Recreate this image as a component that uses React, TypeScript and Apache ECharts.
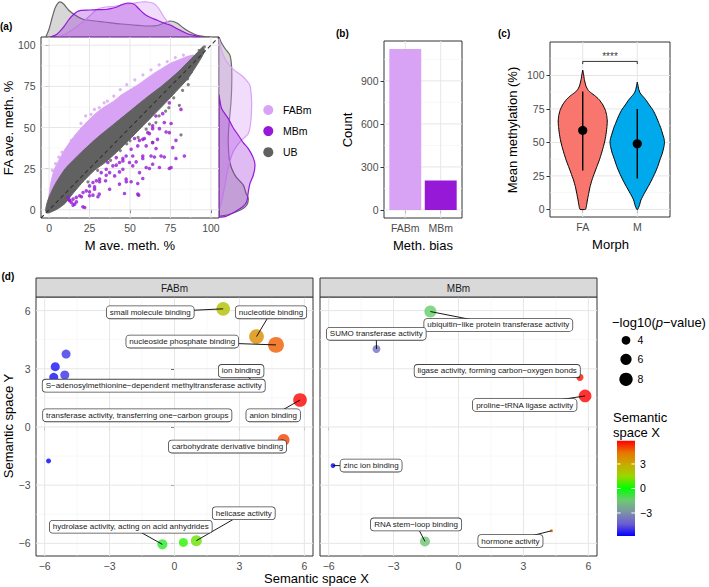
import React, { useEffect, useRef } from "react";
import * as echarts from "echarts";

const FONT = "'Liberation Sans', Arial, Helvetica, sans-serif";

// ---------------- Panel (a): FA vs M average methylation ----------------
const methGroups = ["FABm", "MBm", "UB"];
const tickA = [0, 25, 50, 75, 100];
const minorA = [12.5, 37.5, 62.5, 87.5];
// outline of the dense FABm cloud [M ave, FA ave]
const fabmCloud = [
  [-1, 2], [0, 9], [1, 16], [3, 24], [6, 30], [10, 37], [15, 44], [20, 50], [25, 55], [30, 59.5],
  [35, 63], [40, 66], [45, 70], [50, 73], [55, 76], [60, 79.5], [65, 83], [70, 86], [75, 89], [80, 91],
  [85, 93], [89, 94], [91, 93], [88, 90], [80, 83], [70, 74], [60, 66], [50, 57], [40, 48], [30, 39],
  [20, 29], [10, 18], [4, 10], [0, 3], [-1, 1],
];
// outline of the dense UB cloud [M ave, FA ave]
const ubCloud = [
  [-2, -1], [-2, 1], [-1, 5], [1, 10], [4, 16], [10, 25], [20, 35], [30, 44], [40, 52], [50, 60],
  [60, 68], [70, 75.5], [80, 84], [88, 92], [93, 97], [95, 99], [96, 97], [95, 94], [92, 89], [86, 80],
  [80.5, 74], [70, 63], [57, 50], [45, 38], [35, 29], [28, 24], [20, 16], [14, 9], [10, 4], [6, 1],
  [2, -1], [-1, -2],
];
const fabmPoints = [
  [2, 24], [4, 28], [6, 32], [8, 35], [10, 36], [13.3, 40], [13.8, 42.2], [16.6, 45], [19.7, 52.5],
  [22.6, 57], [26, 58], [28, 61], [31, 62], [34, 65], [36, 66], [40, 69], [44, 73], [48, 76], [53, 79],
  [58, 82], [63, 85], [68, 88], [73, 90], [78, 92.5], [83, 94],
];
const ubPoints = [
  [81.5, 45.5], [64, 41], [80.5, 63.5], [82.5, 72.5], [85.6, 79.6], [74, 62], [77, 68], [90, 88],
  [92.8, 96.8], [60, 49], [55, 44], [68, 57], [72, 60], [50, 42], [44, 36], [38, 30], [30, 24],
  [24, 17], [86, 76], [88, 84], [96, 99], [66, 53], [62, 52], [48, 40],
];
const mbmPoints = [
  [74.3, 46.9], [81.5, 61], [74.3, 65], [66, 57], [67, 42.8], [64, 51], [61, 46.9], [57.9, 42.8],
  [54.8, 38.8], [50.7, 36.8], [47.6, 32.7], [45.6, 29.7], [43.5, 28.7], [41.5, 31.7], [39.4, 26.7],
  [37.4, 22.6], [35.3, 24.6], [32.2, 22.6], [31.2, 18.6], [29.2, 17.6], [27.1, 16.6], [25, 14.5],
  [23, 11.5], [21, 10.5], [18.9, 8.5], [16.8, 7.5], [14.8, 6.5], [12.7, 5.5], [11.7, 7.5], [13.8, 4.4],
  [15.8, 3.4], [22, 1.4], [25, 8.5], [31, 9.5], [37.4, 12.5], [43.5, 15.6], [47.6, 18.6], [54.8, 9.5],
  [55.9, 22.6], [60, 25.7], [64, 27.7], [68.2, 25.7], [75.4, 25.7], [83.6, 32.7], [76.4, 37.8],
  [69.2, 32.7], [63, 32.7], [57.9, 32.7], [60, 38.8], [64, 40.8], [51.7, 32.7], [49.7, 28.7],
  [51.7, 26.7], [45.6, 24.6], [40.5, 20.6], [34.9, 17.6], [28.1, 12.5], [36.3, 28.7], [52.8, 43.3],
  [53.8, 29.1], [57.9, 31.2], [62, 25.1], [65.1, 32.1], [71.2, 32.1], [74.3, 25.1], [78.4, 31.2],
  [78.4, 42.2], [72.3, 47.3], [68.2, 49.3], [64, 49.3], [62, 46.3], [58.9, 43.3], [55.8, 42.2],
  [57.9, 19], [54.8, 16], [50.7, 17], [55.4, 8.9], [66.1, 37.2], [70.2, 58.4], [71.2, 53], [75.4, 52.4],
  [14.8, 2.8], [12.7, 5.9], [16.9, 4.8], [20, 7.9], [20.9, 1.8], [25, 10.9], [28.1, 13.9], [31.2, 17],
  [35.3, 21], [41.5, 27.1], [45.6, 31.2], [43.5, 23], [27.1, 8.9], [30.2, 7.9], [47.7, 17], [46.6, 9.9],
];
// marginal densities of M ave. (relative density) [M, density]
const densM_UB = [
  [-2, 0], [0, 8], [2, 20], [4, 30], [6.4, 35], [9, 33], [12, 27], [16, 22], [20.5, 18], [26, 16.5],
  [34, 15], [45, 13], [55, 11.7], [62, 11], [67, 11.5], [71, 14], [75, 16], [79, 14], [83, 9], [87, 5],
  [91.6, 1.7], [96, 0.5], [100, 0],
];
const densM_FABm = [
  [5, 0], [10, 3], [15, 8], [20, 14], [25, 21], [30, 28], [35, 30], [40, 30.5], [44, 31.7], [48, 33],
  [52.6, 34], [57, 35], [61, 35], [65, 33.3], [68, 28], [71, 20], [74, 14], [77, 10], [81, 6],
  [85, 3.3], [90, 1], [95, 0],
];
const densM_MBm = [
  [1, 0], [5, 3], [9, 10], [12, 17], [14.6, 21.7], [17, 25], [19.7, 26.7], [25, 27], [30, 27.3],
  [35, 27.5], [38.2, 28.3], [42, 30], [45, 32.5], [48.5, 34], [52.6, 32.7], [55, 29], [58.7, 23.3],
  [62, 20], [66.9, 16.7], [71, 14], [75.1, 11.7], [79, 8.5], [83.3, 5], [86, 3], [89.5, 1.7],
  [93, 0.5], [96, 0],
];
// marginal densities of FA ave. [FA, density]
const densFA_UB = [
  [-4, 0], [-3, 9], [0, 22], [2.8, 27.7], [6.9, 29.3], [10, 27], [15, 24.3], [20, 17], [25.1, 12.7],
  [30, 10.5], [37, 9.5], [45.3, 9.3], [55, 10.5], [65.5, 12], [75, 12.7], [85.7, 12.7], [93.8, 11],
  [98, 6], [102, 2], [105, 0],
];
const densFA_FABm = [
  [0, 0], [5, 2.7], [15, 6], [25, 9], [35, 14], [42, 22], [46, 29], [50, 31], [55, 32], [60, 32.5],
  [65.5, 32.7], [70, 32.2], [75.6, 31], [79, 27], [81.6, 22.7], [85, 15], [89, 9], [93, 5],
  [97, 2.5], [101, 1], [104, 0],
];
const densFA_MBm = [
  [-4.5, 0], [-4.2, 6], [-1.2, 16], [2, 24], [4.9, 27.7], [10.9, 29.3], [16, 31], [21, 34.3],
  [27.1, 36], [32, 34], [37.2, 29.3], [41, 24], [45.3, 19.3], [50, 14], [55.4, 9.3], [61.4, 2.7],
  [66, 1], [70, 0],
];

// ---------------- Panel (b): counts per methylation bias ----------------
const biasCats = ["FABm", "MBm"];
const biasCounts = [1122, 205];
const tickB = [0, 300, 600, 900];
const minorB = [150, 450, 750, 1050];

// ---------------- Panel (c): violins by morph ----------------
const morphs = ["FA", "M"];
const morphMean = [59, 49];
const morphLow = [29, 23];
const morphHigh = [88, 75];
// [mean methylation, half width]
const violinFA = [
  [0, 0.05], [3, 0.07], [7, 0.086], [12, 0.11], [17, 0.135], [22, 0.17], [27, 0.214], [32, 0.26],
  [37, 0.306], [42, 0.345], [47, 0.38], [52, 0.41], [57, 0.43], [62, 0.445], [66, 0.45], [70, 0.44],
  [74, 0.416], [78, 0.37], [82, 0.3], [85, 0.22], [87, 0.153], [89, 0.1], [92, 0.06], [97, 0.03],
  [101, 0.015], [104, 0],
];
const violinM = [
  [0, 0.01], [3, 0.04], [7, 0.067], [12, 0.13], [17, 0.2], [22, 0.265], [27, 0.324], [32, 0.375],
  [37, 0.416], [42, 0.46], [47, 0.49], [50, 0.5], [53, 0.49], [57, 0.46], [61, 0.43], [64, 0.4],
  [69, 0.35], [74, 0.29], [78, 0.22], [82, 0.153], [85, 0.09], [87, 0.05], [90, 0.025], [93, 0.01],
  [95, 0],
];
const tickC = [0, 25, 50, 75, 100];
const minorC = [12.5, 37.5, 62.5, 87.5, 112.5];
const sigText = "****";
const sigY = 110.5;
const sigDrop = 2;

// ---------------- Panel (d): GO terms in semantic space ----------------
const facets = ["FABm", "MBm"];
// [term, semantic X, semantic Y, -log10(p)]
const termsFABm = [
  ["small molecule binding", 2.25, 6.09, 8.4],
  ["nucleotide binding", 3.79, 4.66, 9.6],
  ["nucleoside phosphate binding", 4.69, 4.23, 11],
  ["ion binding", 3.91, 2.08, 5],
  ["S\u2212adenosylmethionine\u2212dependent methyltransferase activity", -5.58, 2.56, 4.2],
  ["transferase activity, transferring one\u2212carbon groups", -5.51, 3.11, 4.2],
  ["", -5.01, 3.76, 4.2],
  ["", -5.07, 2.68, 4.2],
  ["anion binding", 5.8, 1.39, 8.4],
  ["carbohydrate derivative binding", 5.04, -0.67, 6.7],
  ["", -5.82, -1.75, 2.0],
  ["hydrolase activity, acting on acid anhydrides", -0.56, -6.05, 5.0],
  ["", 0.41, -5.95, 4.2],
  ["helicase activity", 1.01, -5.86, 5.8],
];
const termsMBm = [
  ["ubiquitin\u2212like protein transferase activity", -1.3, 5.95, 6.7],
  ["SUMO transferase activity", -3.79, 4.02, 3.5],
  ["ligase activity, forming carbon\u2212oxygen bonds", 5.61, 2.56, 3.1],
  ["proline\u2212tRNA ligase activity", 5.85, 1.6, 7.4],
  ["zinc ion binding", -5.8, -1.99, 1.9],
  ["RNA stem\u2212loop binding", -1.55, -5.9, 5.0],
  ["hormone activity", 4.3, -5.35, 1.4],
];
const tickD = [-6, -3, 0, 3, 6];
const minorD = [-4.5, -1.5, 1.5, 4.5];
const sizeBreaks = [4, 6, 8];
const colorBreaks = [3, 0, -3];

// ---------------- layout (label anchors in data units, segment flag) ----------------
const labelPosFABm = [
  [-1.12, 5.91, 1], [4.46, 5.91, 1], [0.36, 4.4, 1], [3.08, 2.89, 1], [-0.96, 2.13, 0], [-1.72, 0.6, 0],
  [0, 0, 0], [0, 0, 0], [4.56, 0.6, 1], [2.45, -1.01, 1], [0, 0, 0], [-2.02, -5.14, 1], [0, 0, 0],
  [3.2, -4.45, 1],
];
const labelPosMBm = [
  [1.84, 5.26, 1], [-3.8, 4.8, 1], [1.79, 2.89, 1], [3.06, 1.13, 1], [-4.04, -1.99, 1],
  [-1.96, -5.02, 1], [2.4, -5.88, 1],
];

// ---------------- styles ----------------
const GROUP_COLORS: any = { FABm: "#D9A3F5", MBm: "#9519D6", UB: "#616161" };
const VIOLIN_COLORS = ["#F8766D", "#00A9EC"];
const SEM_COLORS = ["#0000FF", "#6C5BD3", "#7D93A6", "#6EC972", "#00FF00", "#98D700", "#C8AB00", "#E87600", "#FF0000"];

const minus = (v: number) => (v < 0 ? "\u2212" + Math.abs(v) : String(v));
const sizeFn = (v: number) => Math.sqrt(Math.max(25.3 * v - 25.5, 9));

function valueAxis(gridIndex: number, min: number, max: number, ticks: number[], opts: any = {}) {
  const showLabels = opts.showLabels !== false;
  return {
    type: "value",
    gridIndex,
    min,
    max,
    axisLine: { show: false },
    axisTick: { show: showLabels, inside: false, length: 3.5, lineStyle: { color: "#333", width: 1 }, customValues: ticks },
    axisLabel: {
      show: showLabels,
      customValues: ticks,
      color: "#4D4D4D",
      fontSize: 10.5,
      fontFamily: FONT,
      margin: opts.margin ?? 5,
      formatter: opts.formatter || minus,
    },
    splitLine: { show: false },
    minorSplitLine: { show: false },
  };
}
function hiddenAxis(gridIndex: number, min: number, max: number) {
  return { type: "value", gridIndex, min, max, show: false, splitLine: { show: false } };
}

function gridLines(idx: number, xMaj: number[], xMin: number[], yMaj: number[], yMin: number[], x0: number, y0: number) {
  return {
    type: "custom",
    xAxisIndex: idx,
    yAxisIndex: idx,
    z: 1,
    silent: true,
    clip: false,
    data: [[x0, y0]],
    renderItem: (params: any, api: any) => {
      const cs = params.coordSys;
      const ch: any[] = [];
      const v = (val: number, minor: boolean) => {
        const p = api.coord([val, y0]);
        ch.push({ type: "line", shape: { x1: p[0], y1: cs.y, x2: p[0], y2: cs.y + cs.height }, style: { stroke: minor ? "#F3F3F3" : "#E6E6E6", lineWidth: minor ? 0.6 : 1 } });
      };
      const h = (val: number, minor: boolean) => {
        const p = api.coord([x0, val]);
        ch.push({ type: "line", shape: { x1: cs.x, y1: p[1], x2: cs.x + cs.width, y2: p[1] }, style: { stroke: minor ? "#F3F3F3" : "#E6E6E6", lineWidth: minor ? 0.6 : 1 } });
      };
      xMin.forEach((x) => v(x, true));
      yMin.forEach((y) => h(y, true));
      xMaj.forEach((x) => v(x, false));
      yMaj.forEach((y) => h(y, false));
      return { type: "group", children: ch };
    },
  };
}

function polySeries(idx: number, pts: number[][], toXY: (p: number[]) => number[], fill: string, stroke: string, lw: number, smooth: number, z = 2) {
  return {
    type: "custom",
    xAxisIndex: idx,
    yAxisIndex: idx,
    z,
    silent: true,
    clip: true,
    data: [toXY(pts[0])],
    renderItem: (params: any, api: any) => ({
      type: "polygon",
      shape: { points: pts.map((p) => api.coord(toXY(p))), smooth },
      style: { fill, stroke, lineWidth: lw },
    }),
  };
}

function closeDensity(d: number[][]) {
  return [[d[0][0], 0], ...d, [d[d.length - 1][0], 0]];
}

function buildOption() {
  const series: any[] = [];
  // ---- panel a
  series.push(gridLines(0, tickA, minorA, tickA, minorA, -5, -5));
  series.push(polySeries(0, fabmCloud, (p) => p, GROUP_COLORS.FABm, GROUP_COLORS.FABm, 1, 0.2));
  series.push({ type: "scatter", xAxisIndex: 0, yAxisIndex: 0, z: 2, silent: true, symbolSize: 3.2, itemStyle: { color: GROUP_COLORS.FABm }, data: fabmPoints });
  series.push(polySeries(0, ubCloud, (p) => p, GROUP_COLORS.UB, GROUP_COLORS.UB, 1, 0.2));
  series.push({ type: "scatter", xAxisIndex: 0, yAxisIndex: 0, z: 2, silent: true, symbolSize: 3.2, itemStyle: { color: GROUP_COLORS.UB }, data: ubPoints });
  series.push({ type: "scatter", xAxisIndex: 0, yAxisIndex: 0, z: 2, silent: true, symbolSize: 3.6, itemStyle: { color: GROUP_COLORS.MBm }, data: mbmPoints });
  series.push({
    type: "line", xAxisIndex: 0, yAxisIndex: 0, z: 3, silent: true, symbol: "none",
    lineStyle: { color: "#333", width: 1.1, type: [4, 3] },
    data: [[-5, -5], [105, 105]],
  });
  // marginal densities
  const margStyles = [
    [densM_UB, densFA_UB, "rgba(97,97,97,0.25)", "#666666"],
    [densM_FABm, densFA_FABm, "rgba(217,163,245,0.38)", "#D9A3F5"],
    [densM_MBm, densFA_MBm, "rgba(149,25,214,0.3)", "#9519D6"],
  ];
  margStyles.forEach(([dm, dfa, fill, stroke]: any) => {
    series.push(polySeries(1, closeDensity(dm), (p) => p, fill, stroke, 1.2, 0.3));
    series.push(polySeries(2, closeDensity(dfa), (p) => [p[1], p[0]], fill, stroke, 1.2, 0.3));
  });

  // ---- panel b
  series.push(gridLines(3, [1, 2], [], tickB, minorB, 0.4, 0));
  series.push({
    type: "custom", xAxisIndex: 3, yAxisIndex: 3, z: 2, silent: true,
    data: biasCounts.map((c, i) => [i + 1, c]),
    renderItem: (params: any, api: any) => {
      const x = api.value(0);
      const v = api.value(1);
      const p0 = api.coord([x - 0.45, 0]);
      const p1 = api.coord([x + 0.45, v]);
      return {
        type: "rect",
        shape: { x: p0[0], y: p1[1], width: p1[0] - p0[0], height: p0[1] - p1[1] },
        style: { fill: GROUP_COLORS[biasCats[params.dataIndex]] },
      };
    },
  });

  // ---- panel c
  series.push(gridLines(4, [1, 2], [], tickC, minorC, 0.4, 0));
  const violins = [violinFA, violinM];
  series.push({
    type: "custom", xAxisIndex: 4, yAxisIndex: 4, z: 2, silent: true,
    data: morphMean.map((m, i) => [i + 1, m]),
    renderItem: (params: any, api: any) => {
      const i = params.dataIndex;
      const x = i + 1;
      const prof = violins[i];
      const left = prof.map(([y, w]) => api.coord([x - w, y]));
      const right = prof.slice().reverse().map(([y, w]) => api.coord([x + w, y]));
      return {
        type: "polygon",
        shape: { points: [...left, ...right], smooth: 0.15 },
        style: { fill: VIOLIN_COLORS[i], stroke: "#000", lineWidth: 1 },
      };
    },
  });
  series.push({
    type: "custom", xAxisIndex: 4, yAxisIndex: 4, z: 3, silent: true,
    data: morphMean.map((m, i) => [i + 1, m, morphLow[i], morphHigh[i]]),
    renderItem: (params: any, api: any) => {
      const x = api.value(0);
      const a = api.coord([x, api.value(2)]);
      const b = api.coord([x, api.value(3)]);
      const c = api.coord([x, api.value(1)]);
      return {
        type: "group",
        children: [
          { type: "line", shape: { x1: a[0], y1: a[1], x2: b[0], y2: b[1] }, style: { stroke: "#000", lineWidth: 1.4 } },
          { type: "circle", shape: { cx: c[0], cy: c[1], r: 4.6 }, style: { fill: "#000" } },
        ],
      };
    },
  });
  series.push({
    type: "line", xAxisIndex: 4, yAxisIndex: 4, z: 3, silent: true, symbol: "none",
    lineStyle: { color: "#000", width: 0.8 },
    data: [[1, sigY - sigDrop], [1, sigY], [2, sigY], [2, sigY - sigDrop]],
  });
  series.push({
    type: "scatter", xAxisIndex: 4, yAxisIndex: 4, z: 3, silent: true, symbolSize: 1,
    itemStyle: { color: "rgba(0,0,0,0)" },
    label: { show: true, position: "inside", formatter: sigText, fontSize: 10, color: "#000", fontFamily: FONT },
    data: [[1.5, sigY + 4]],
  });

  // ---- panel d
  const allX = [...termsFABm, ...termsMBm].map((t: any) => t[1]);
  const semMin = Math.min(...allX);
  const semMax = Math.max(...allX);
  const bubbleIdx: number[] = [];
  const facetData = [
    [termsFABm, labelPosFABm],
    [termsMBm, labelPosMBm],
  ];
  facetData.forEach(([terms, pos]: any, f) => {
    const gi = 5 + f;
    series.push(gridLines(gi, tickD, minorD, tickD, minorD, -6, -6));
    bubbleIdx.push(series.length);
    series.push({
      type: "scatter", xAxisIndex: gi, yAxisIndex: gi, z: 3, silent: true,
      symbolSize: (val: any) => sizeFn(val[2]),
      data: terms.map((t: any) => [t[1], t[2], t[3]]),
    });
    // leader segments + label boxes (ggrepel style); boxes sit above every segment
    const items = terms
      .map((t: any, i: number) => [t[1], t[2], pos[i][0], pos[i][1], pos[i][2], i])
      .filter((s: any) => terms[s[5]][0] !== "");
    series.push({
      type: "custom", xAxisIndex: gi, yAxisIndex: gi, z: 4, silent: true, clip: false,
      data: items,
      renderItem: (params: any, api: any) => {
        const a = api.coord([api.value(0), api.value(1)]);
        const b = api.coord([api.value(2), api.value(3)]);
        const name = terms[api.value(5)][0];
        const children: any[] = [];
        if (api.value(4) === 1) {
          children.push({ type: "line", z2: 1, shape: { x1: a[0], y1: a[1], x2: b[0], y2: b[1] }, style: { stroke: "#000", lineWidth: 0.9 } });
        }
        children.push({
          type: "text", z2: 50, x: b[0], y: b[1],
          style: {
            text: name, fontSize: 8, fontFamily: FONT, fill: "#1A1A1A",
            align: "center", verticalAlign: "middle",
            backgroundColor: "#FFFFFF", borderColor: "#444", borderWidth: 0.8, borderRadius: 3, padding: [2, 3, 2, 3],
          },
        });
        return { type: "group", children };
      },
    });
  });

  // ---- graphic (titles, legends, strips)
  const T = (text: string, x: number, y: number, o: any = {}) => ({
    type: "text", x, y, rotation: o.rot || 0, silent: true, z: 100,
    style: {
      text, fill: o.fill || "#000", fontSize: o.size || 13, fontFamily: FONT, fontWeight: o.bold ? "bold" : "normal",
      align: o.align || "center", verticalAlign: "middle", textAlign: o.align || "center", textVerticalAlign: "middle",
    },
  });
  const g: any[] = [];
  g.push(T("(a)", 0, 26, { size: 10, bold: true, align: "left" }));
  g.push(T("(b)", 336, 33, { size: 10, bold: true, align: "left" }));
  g.push(T("(c)", 498, 33, { size: 10, bold: true, align: "left" }));
  g.push(T("(d)", 1.5, 276, { size: 10, bold: true, align: "left" }));
  g.push(T("FA ave. meth. %", 8.5, 128, { rot: Math.PI / 2 }));
  g.push(T("M ave. meth. %", 130, 245));
  g.push(T("Count", 347.5, 130, { rot: Math.PI / 2 }));
  g.push(T("Meth. bias", 423, 245.5));
  g.push(T("Mean methylation (%)", 512, 130, { rot: Math.PI / 2 }));
  g.push(T("Morph", 610.5, 244));
  g.push(T("Semantic space Y", 8, 426, { rot: Math.PI / 2 }));
  g.push(T("Semantic space X", 316.5, 578));
  // legend a
  methGroups.forEach((grp, i) => {
    const y = 110 + i * 21.1;
    g.push({ type: "circle", silent: true, z: 100, shape: { cx: 268.3, cy: y, r: 5 }, style: { fill: GROUP_COLORS[grp] } });
    g.push(T(grp, 283, y, { size: 10.5, align: "left" }));
  });
  // strips
  facets.forEach((f, i) => {
    const x = i === 0 ? 36 : 320;
    g.push({ type: "rect", silent: true, z: 100, shape: { x, y: 278, width: 277, height: 19 }, style: { fill: "#D9D9D9", stroke: "#333", lineWidth: 1 } });
    g.push(T(f, x + 138.5, 288, { size: 10, fill: "#1A1A1A" }));
  });
  // size legend
  g.push({
    type: "text", x: 612, y: 322, silent: true, z: 100,
    style: {
      text: "{n|\u2212log10(}{i|p}{n|\u2212value)}", align: "left", verticalAlign: "middle", textAlign: "left", textVerticalAlign: "middle",
      rich: { n: { fontSize: 13, fontFamily: FONT, fill: "#000", color: "#000" }, i: { fontSize: 13, fontFamily: FONT, fontStyle: "italic", fill: "#000", color: "#000" } },
    },
  });
  sizeBreaks.forEach((b, i) => {
    const y = [340.3, 359.3, 379.3][i];
    g.push({ type: "circle", silent: true, z: 100, shape: { cx: 626, cy: y, r: sizeFn(b) / 2 }, style: { fill: "#000" } });
    g.push(T(String(b), 637.5, y, { size: 10.5, align: "left" }));
  });
  // colour legend
  g.push(T("Semantic", 613, 417.5, { align: "left" }));
  g.push(T("space X", 613, 432.5, { align: "left" }));
  const barTop = 440.7;
  const barH = 95.3;
  const stops = SEM_COLORS.slice().reverse().map((c, i) => ({ offset: i / (SEM_COLORS.length - 1), color: c }));
  g.push({
    type: "rect", silent: true, z: 100, shape: { x: 617, y: barTop, width: 18, height: barH },
    style: { fill: new echarts.graphic.LinearGradient(0, 0, 0, 1, stops) },
  });
  colorBreaks.forEach((b) => {
    const y = barTop + ((semMax - b) / (semMax - semMin)) * barH;
    g.push({ type: "line", silent: true, z: 101, shape: { x1: 617, y1: y, x2: 620.6, y2: y }, style: { stroke: "#fff", lineWidth: 1 } });
    g.push({ type: "line", silent: true, z: 101, shape: { x1: 631.4, y1: y, x2: 635, y2: y }, style: { stroke: "#fff", lineWidth: 1 } });
    g.push(T(minus(b), 640, y, { size: 10.5, align: "left" }));
  });

  const bMax = Math.max(...biasCounts) * 1.05;
  const bMin = -Math.max(...biasCounts) * 0.05;
  const panel = { show: true, borderColor: "#333", borderWidth: 1, backgroundColor: "#fff", containLabel: false, outerBoundsMode: "none" };
  const bare = { show: false, containLabel: false, outerBoundsMode: "none" };

  return {
    animation: false,
    textStyle: { fontFamily: FONT },
    grid: [
      { left: 41, top: 37, width: 178, height: 181, ...panel },
      { left: 41, top: 0, width: 178, height: 37, ...bare },
      { left: 219, top: 37, width: 40, height: 181, ...bare },
      { left: 384, top: 41, width: 78, height: 177, ...panel },
      { left: 550, top: 42, width: 120, height: 175, ...panel },
      { left: 36, top: 297, width: 277, height: 259, ...panel },
      { left: 320, top: 297, width: 277, height: 259, ...panel },
    ],
    xAxis: [
      valueAxis(0, -5, 105, tickA, { margin: 4 }),
      hiddenAxis(1, -5, 105),
      hiddenAxis(2, 0, 40),
      valueAxis(3, 0.4, 2.6, [1, 2], { margin: 4, formatter: (v: number) => biasCats[Math.round(v) - 1] }),
      valueAxis(4, 0.4, 2.6, [1, 2], { margin: 4, formatter: (v: number) => morphs[Math.round(v) - 1] }),
      valueAxis(5, -6.4, 6.4, tickD, { margin: 4 }),
      valueAxis(6, -6.4, 6.4, tickD, { margin: 4 }),
    ],
    yAxis: [
      valueAxis(0, -5, 105, tickA, { margin: 5.5 }),
      hiddenAxis(1, 0, 37),
      hiddenAxis(2, -5, 105),
      valueAxis(3, bMin, bMax, tickB, { margin: 5.5 }),
      valueAxis(4, -5.7, 125, tickC, { margin: 5.5 }),
      valueAxis(5, -6.65, 6.7, tickD, { margin: 5.5 }),
      valueAxis(6, -6.65, 6.7, tickD, { showLabels: false }),
    ],
    visualMap: [
      { type: "continuous", show: false, min: semMin, max: semMax, dimension: 0, seriesIndex: bubbleIdx, inRange: { color: SEM_COLORS } },
    ],
    series,
    graphic: { elements: g },
  };
}

export default function App() {
  const ref = useRef<HTMLDivElement>(null);
  useEffect(() => {
    document.body.style.margin = "0";
    if (!ref.current) return;
    const chart = echarts.init(ref.current, null, { renderer: "svg" });
    chart.setOption(buildOption() as any);
    return () => chart.dispose();
  }, []);
  return <div ref={ref} style={{ width: 709, height: 587, background: "#fff" }} />;
}
